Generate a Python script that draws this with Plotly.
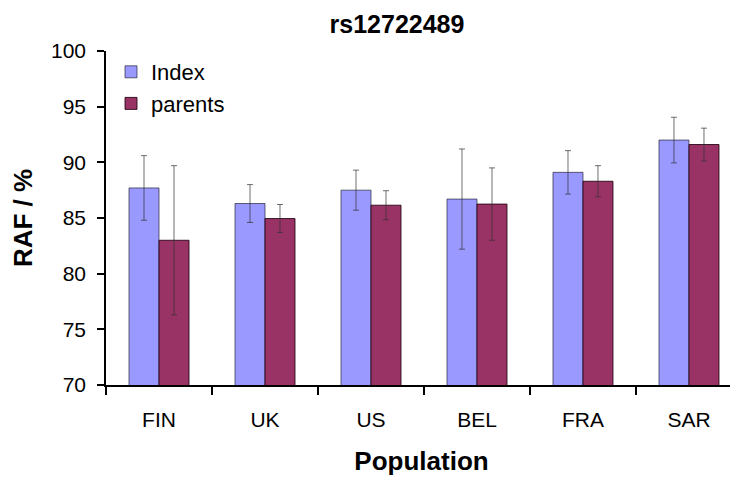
import plotly.graph_objects as go

populations = ["FIN", "UK", "US", "BEL", "FRA", "SAR"]
index_vals = [87.7, 86.3, 87.5, 86.7, 89.1, 92.0]
index_err = [2.9, 1.7, 1.8, 4.5, 1.95, 2.05]
parents_vals = [83.0, 84.95, 86.15, 86.25, 88.3, 91.6]
parents_err = [6.7, 1.26, 1.3, 3.25, 1.4, 1.47]

FONT = "Liberation Sans, Arial, sans-serif"
W, H = 730, 473

fig = go.Figure()
fig.add_trace(go.Bar(
    x=populations, y=index_vals, name="Index",
    marker=dict(color="#9999FF", line=dict(color="rgba(40,40,60,0.7)", width=1)),
    error_y=dict(type="data", array=index_err, color="rgba(50,50,50,0.7)", thickness=1, width=3),
))
fig.add_trace(go.Bar(
    x=populations, y=parents_vals, name="parents",
    marker=dict(color="#993366", line=dict(color="rgba(30,0,15,0.85)", width=1)),
    error_y=dict(type="data", array=parents_err, color="rgba(50,50,50,0.7)", thickness=1, width=3),
))

fig.update_layout(
    width=W, height=H,
    margin=dict(l=98, r=1, t=43, b=96, autoexpand=False),
    paper_bgcolor="white", plot_bgcolor="white",
    barmode="group", bargap=0.434, bargroupgap=0,
    font=dict(family=FONT, color="black", size=21),
    title=dict(text="<b>rs12722489</b>", x=389/W, xanchor="center",
               y=1 - 16/H, yanchor="middle", yref="container",
               font=dict(family=FONT, size=25)),
    legend=dict(x=5/631, y=1.0, xanchor="left", yanchor="top",
                bgcolor="rgba(0,0,0,0)", font=dict(size=22)),
    showlegend=True,
)
fig.update_xaxes(
    type="category", range=[-0.5, 5.453], automargin=False,
    showline=True, linecolor="black", linewidth=1.5,
    ticks="outside", ticklen=8, tickwidth=1.5, tickcolor="black",
    tickson="boundaries", showgrid=False, ticklabelstandoff=15,
    tickfont=dict(size=21),
    title=dict(text="<b>Population</b>", font=dict(size=26), standoff=22),
)
fig.update_yaxes(
    range=[70, 100], tickvals=[70, 75, 80, 85, 90, 95, 100], automargin=False,
    showline=True, linecolor="black", linewidth=1.5,
    ticks="outside", ticklen=7, tickwidth=1.5, tickcolor="black",
    showgrid=False, zeroline=False, ticklabelstandoff=7,
    tickfont=dict(size=21),
    title=dict(text="<b>RAF / %</b>", font=dict(size=26), standoff=12),
)

fig.write_html("out.html")
